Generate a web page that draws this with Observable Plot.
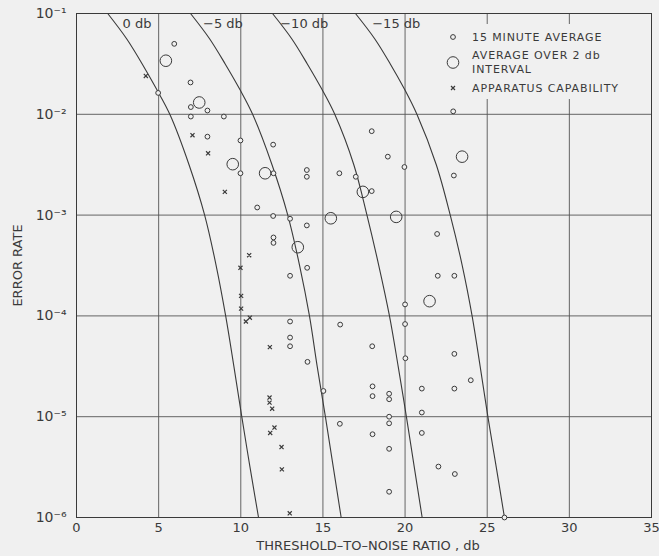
<!DOCTYPE html>
<html><head><meta charset="utf-8">
<script src="https://cdn.jsdelivr.net/npm/d3@7"></script>
<script src="https://cdn.jsdelivr.net/npm/@observablehq/plot@0.6"></script>
<style>
body{margin:0;background:#f0f0f0;}
#chart{position:relative;width:659px;height:556px;}
</style></head><body><div id="chart"></div>
<script>
// ---- data ----
const curveErrorLevels = [1e-1, 5.62e-2, 3.16e-2, 1.78e-2, 1e-2, 3.16e-3, 1e-3, 3.16e-4, 1e-4, 3.16e-5, 1e-5, 3.16e-6, 1e-6];
const curve0db   = [1.9, 3.05, 4.0, 4.87, 5.68, 6.85, 7.8, 8.5, 9.08, 9.58, 10.06, 10.56, 11.08];
const curve5db   = [6.94, 8.1, 9.05, 9.93, 10.72, 11.9, 12.86, 13.58, 14.18, 14.65, 15.15, 15.63, 16.11];
const curve10db  = [11.93, 13.1, 14.05, 14.93, 15.72, 16.88, 17.68, 18.4, 19.05, 19.58, 20.08, 20.56, 21.04];
const curve15db  = [16.98, 18.15, 19.1, 19.96, 20.72, 21.9, 22.75, 23.48, 24.08, 24.57, 25.04, 25.55, 26.05];
const curveLabels = ["0 db", "\u22125 db", "\u221210 db", "\u221215 db"];
const curveLabelX = [2.8, 7.7, 12.4, 18.0];
const curveLabelY = 0.079;

const minuteX = [5.95,4.97,6.94,6.96,6.96,7.97,8.97,7.97,9.98,11.97,9.98,11.99,14.02,14.02,16.0,17.0,17.97,22.93,18.95,19.96,22.97,17.97,11.0,11.97,13.0,14.02,11.99,11.99,14.04,13.0,13.0,16.05,13.0,13.0,18.0,21.95,21.99,23.0,20.0,20.0,23.0,14.06,15.03,18.02,18.02,16.03,18.02,20.02,24.0,19.03,19.03,21.02,23.0,21.02,19.03,19.03,21.02,19.03,22.03,23.03,19.03,26.05];
const minuteY = [0.05,0.0163,0.0207,0.0118,0.0095,0.0109,0.0095,0.006,0.0055,0.005,0.0026,0.0026,0.0028,0.0024,0.0026,0.0024,0.0068,0.0107,0.0038,0.003,0.00247,0.00173,0.00119,0.00098,0.00092,0.00079,0.0006,0.00053,0.0003,0.00025,8.8e-5,8.2e-5,6.1e-5,5.0e-5,5.0e-5,6.5e-4,2.5e-4,2.5e-4,1.3e-4,8.3e-5,4.2e-5,3.5e-5,1.8e-5,2.0e-5,1.6e-5,8.5e-6,6.7e-6,3.8e-5,2.3e-5,1.69e-5,1.49e-5,1.9e-5,1.9e-5,1.1e-5,1.0e-5,8.6e-6,6.9e-6,4.8e-6,3.2e-6,2.7e-6,1.8e-6,1.0e-6];

const intervalX = [5.44,7.47,9.51,11.48,17.43,15.48,13.47,19.46,23.47,21.49];
const intervalY = [0.034,0.0131,0.0032,0.0026,0.0017,0.00093,0.00048,0.00096,0.0038,0.00014];

const apparatusX = [4.22,7.06,8.01,9.03,10.51,9.98,10.02,10.02,10.31,10.55,11.77,11.75,11.75,11.91,11.79,12.05,12.48,12.5,12.98];
const apparatusY = [0.024,0.0062,0.0041,0.0017,0.0004,0.0003,0.000158,0.000118,8.8e-5,9.6e-5,4.9e-5,1.55e-5,1.38e-5,1.2e-5,6.9e-6,7.8e-6,5.0e-6,3.0e-6,1.1e-6];

const xTicks = [0,5,10,15,20,25,30,35];
const yTicks = [1e-1,1e-2,1e-3,1e-4,1e-5,1e-6];
const yTickLabels = ["10\u207B\u00B9","10\u207B\u00B2","10\u207B\u00B3","10\u207B\u2074","10\u207B\u2075","10\u207B\u2076"];
const xLabel = "THRESHOLD\u2013TO\u2013NOISE RATIO , db";
const yLabel = "ERROR RATE";
const legendLabels = ["15 MINUTE AVERAGE", "AVERAGE OVER 2 db", "INTERVAL", "APPARATUS CAPABILITY"];

// ---- tables ----
const curveSets = [curve0db, curve5db, curve10db, curve15db];
const curveRows = curveSets.flatMap((xs, k) => xs.map((x, i) => ({x, y: curveErrorLevels[i], c: curveLabels[k]})));
const labelRows = curveLabels.map((t, i) => ({t, x: curveLabelX[i], y: curveLabelY}));
const minuteRows = minuteX.map((x, i) => ({x, y: minuteY[i]}));
const intervalRows = intervalX.map((x, i) => ({x, y: intervalY[i]}));
const apparatusRows = apparatusX.map((x, i) => ({x, y: apparatusY[i]}));

const ink = "#3a3a3a";
const chart = Plot.plot({
  width: 659, height: 556,
  marginTop: 13, marginRight: 8, marginBottom: 39, marginLeft: 76,
  style: {background: "#f0f0f0", color: ink, fontFamily: "DejaVu Sans, sans-serif", overflow: "visible"},
  x: {domain: [0, 35]},
  y: {type: "log", domain: [1e-6, 1e-1]},
  marks: [
    Plot.ruleX(xTicks, {stroke: "#555", strokeWidth: 0.9}),
    Plot.ruleY(yTicks, {stroke: "#555", strokeWidth: 0.9}),
    Plot.frame({stroke: ink, strokeWidth: 1}),
    Plot.line(curveRows, {x: "x", y: "y", z: "c", curve: "catmull-rom", stroke: ink, strokeWidth: 1.1}),
    Plot.dot(minuteRows, {x: "x", y: "y", r: 2.4, stroke: ink, strokeWidth: 1, fill: "#f0f0f0", clip: false}),
    Plot.dot(intervalRows, {x: "x", y: "y", r: 5.8, stroke: ink, strokeWidth: 1, fill: "none"}),
    Plot.dot(apparatusRows, {x: "x", y: "y", symbol: "times", r: 2, stroke: ink, strokeWidth: 1.2}),
    Plot.text(labelRows, {x: "x", y: "y", text: "t", textAnchor: "start", fontSize: 13, fill: ink}),
    Plot.axisX({ticks: xTicks, tickSize: 0, tickPadding: 5, fontSize: 13, label: null, style: "letter-spacing:2px"}),
    Plot.axisY({ticks: yTicks, tickSize: 0, tickPadding: 10, fontSize: 14, label: null,
                tickFormat: d => yTickLabels[yTicks.indexOf(d)]}),
    Plot.text([xLabel], {frameAnchor: "bottom", dy: 32, dx: 4, textAnchor: "middle", fontSize: 13, fill: ink, style: "letter-spacing:3px"}),
    Plot.text([yLabel], {frameAnchor: "left", dx: -59, rotate: -90, textAnchor: "middle", fontSize: 13, fill: ink, style: "letter-spacing:2.2px"})
  ]
});
document.getElementById("chart").appendChild(chart);

// ---- legend (inside plot, upper right) ----
const svg = d3.select(chart);
const lg = svg.append("g").attr("font-family", "DejaVu Sans, sans-serif").attr("fill", ink)
  .attr("font-size", 11).attr("text-anchor", "start");
lg.append("rect").attr("x", 440).attr("y", 24).attr("width", 205).attr("height", 75).attr("fill", "#f0f0f0");
lg.append("circle").attr("cx", 453).attr("cy", 37).attr("r", 2.4).attr("fill", "none").attr("stroke", ink);
lg.append("circle").attr("cx", 453).attr("cy", 62.5).attr("r", 5.8).attr("fill", "none").attr("stroke", ink);
lg.append("path").attr("d", "M451,86L455,90M455,86L451,90").attr("stroke", ink).attr("stroke-width", 1.2).attr("fill", "none");
const ly = [37, 55, 69, 88];
legendLabels.forEach((t, i) => {
  lg.append("text").attr("x", 472).attr("y", ly[i]).attr("dy", "0.35em").style("letter-spacing", "0.9px").text(t);
});
</script></body></html>
